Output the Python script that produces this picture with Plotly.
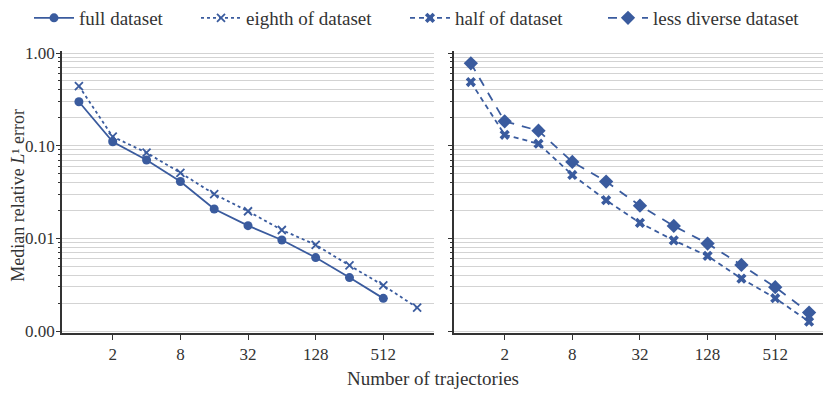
import plotly.graph_objects as go
from plotly.subplots import make_subplots

# number of trajectories
n_traj = [1, 2, 4, 8, 16, 32, 64, 128, 256, 512, 1024]

full_dataset = [0.298, 0.110, 0.070, 0.041, 0.0207, 0.0137, 0.0096, 0.0062, 0.00377, 0.00225]
eighth_dataset = [0.44, 0.125, 0.084, 0.051, 0.030, 0.0196, 0.0123, 0.0085, 0.0051, 0.0031, 0.00179]
half_dataset = [0.486, 0.131, 0.105, 0.0483, 0.0258, 0.0147, 0.0095, 0.00646, 0.00367, 0.00226, 0.00126]
less_diverse = [0.774, 0.183, 0.145, 0.0667, 0.041, 0.0225, 0.0136, 0.00877, 0.00516, 0.00297, 0.00158]

x_ticks = [2, 8, 32, 128, 512]
y_ticks = [0.001, 0.01, 0.1, 1.0]
y_ticklabels = ['0.00', '0.01', '0.10', '1.00']
y_minor = [m * 10 ** e for e in (-3, -2, -1) for m in range(2, 10)]

blue = '#3a5b9e'
grey = '#333333'
font = 'Liberation Serif'

# the page body adds an 8px margin, so the figure is drawn a little smaller
W, H = 823, 385

fig = make_subplots(rows=1, cols=2, horizontal_spacing=0.026)

fig.add_trace(go.Scatter(
    x=n_traj[:len(full_dataset)], y=full_dataset, name='full dataset', legend='legend',
    showlegend=True, mode='lines+markers', line=dict(color=blue, width=1.8),
    marker=dict(symbol='circle', size=9, color=blue)
), row=1, col=1)
fig.add_trace(go.Scatter(
    x=n_traj, y=eighth_dataset, name='eighth of dataset', legend='legend2',
    showlegend=True, mode='lines+markers', line=dict(color=blue, width=1.8, dash='dot'),
    marker=dict(symbol='x-thin', size=8, line=dict(color=blue, width=1.8))
), row=1, col=1)
fig.add_trace(go.Scatter(
    x=n_traj, y=half_dataset, name='half of dataset', legend='legend3',
    showlegend=True, mode='lines+markers', line=dict(color=blue, width=1.8, dash='5px,4px'),
    marker=dict(symbol='x', size=9, color=blue)
), row=1, col=2)
fig.add_trace(go.Scatter(
    x=n_traj, y=less_diverse, name='less diverse dataset', legend='legend4',
    showlegend=True, mode='lines+markers', line=dict(color=blue, width=1.8, dash='9px,8px'),
    marker=dict(symbol='diamond', size=11, color=blue)
), row=1, col=2)

xaxis_style = dict(
    type='log', range=[-0.1505, 3.161], tickvals=x_ticks, ticktext=[str(t) for t in x_ticks],
    ticks='outside', ticklen=5, tickwidth=1.3, tickcolor=grey,
    showline=True, linecolor=grey, linewidth=1.5, showgrid=False, zeroline=False,
    tickfont=dict(family=font, size=17, color=grey),
)
yaxis_style = dict(
    type='log', range=[-3.0216, 0.0216], tickvals=y_ticks,
    ticks='outside', ticklen=4, tickwidth=1.3, tickcolor=grey,
    showline=True, linecolor=grey, linewidth=1.5,
    showgrid=True, gridcolor='#d3d3d3', gridwidth=1.3, zeroline=False,
    minor=dict(tickvals=y_minor, ticks='outside', ticklen=2.5, tickcolor=grey,
               showgrid=True, gridcolor='#d3d3d3', gridwidth=1.3),
    tickfont=dict(family=font, size=17, color=grey),
    ticklabelstandoff=-2,
)

fig.update_xaxes(**xaxis_style)
fig.update_yaxes(**yaxis_style)
fig.update_yaxes(ticktext=y_ticklabels, row=1, col=1)
fig.update_yaxes(showticklabels=False, row=1, col=2)

fig.add_annotation(text='Number of trajectories', x=0.4856, y=-0.16,
                   xref='paper', yref='paper', showarrow=False,
                   xanchor='center', yanchor='middle',
                   font=dict(family=font, size=19, color=grey))
fig.add_annotation(text='Median relative <i>L</i>¹ error', x=-0.0576, y=0.49,
                   xref='paper', yref='paper', showarrow=False, textangle=-90,
                   xanchor='center', yanchor='middle',
                   font=dict(family=font, size=18, color=grey))


def legend_at(px):
    return dict(orientation='h', xref='container', yref='container',
                x=px / W, xanchor='left', y=1 - 10 / H, yanchor='middle',
                bgcolor='rgba(0,0,0,0)', itemwidth=40,
                font=dict(family=font, size=19, color=grey))


fig.update_layout(
    width=W, height=H, showlegend=True,
    margin=dict(l=54, r=5, t=43, b=60, autoexpand=False),
    plot_bgcolor='white', paper_bgcolor='white',
    legend=legend_at(21), legend2=legend_at(188),
    legend3=legend_at(397), legend4=legend_at(595),
)

fig.write_html("out.html")
